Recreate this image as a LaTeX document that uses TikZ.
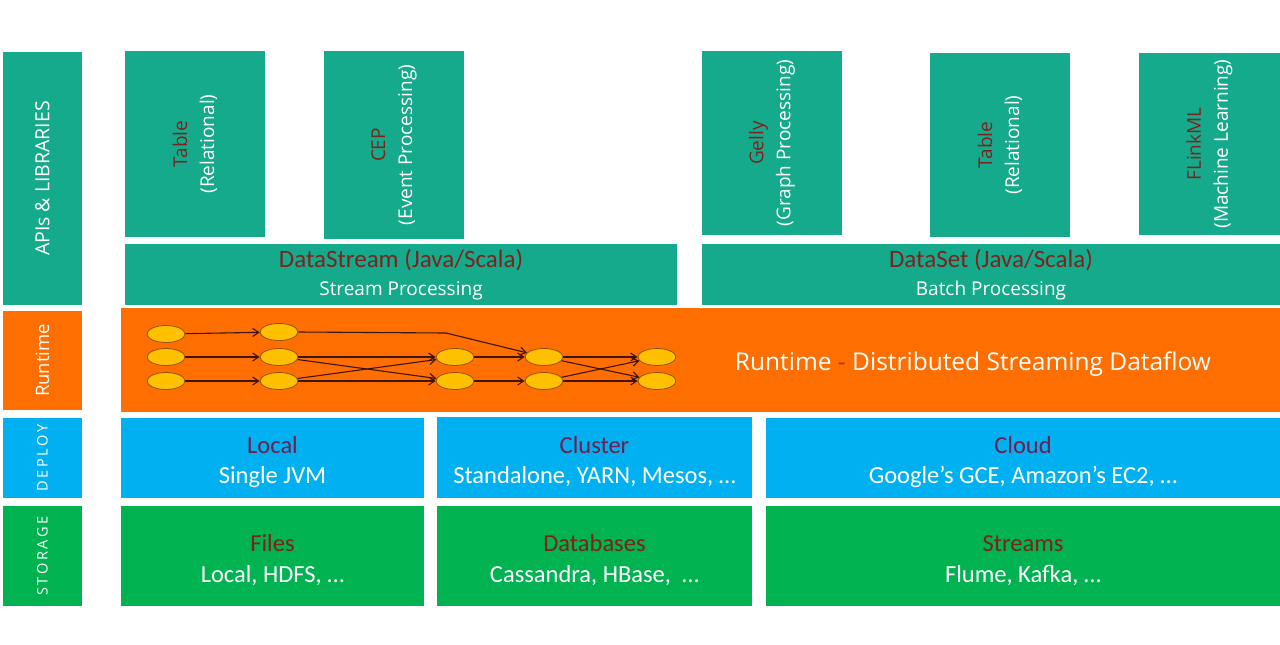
\documentclass[tikz,border=0pt]{standalone}
\usepackage{fontspec}
\setmainfont{Open Sans}
\newfontfamily\calfont{Carlito}
\newfontfamily\spacedfont[LetterSpace=18]{Open Sans}
\usetikzlibrary{shapes.geometric,arrows.meta}
\definecolor{tealc}{RGB}{22,170,140}
\definecolor{orangec}{RGB}{255,110,0}
\definecolor{bluec}{RGB}{0,176,240}
\definecolor{greenc}{RGB}{0,178,80}
\definecolor{dred}{RGB}{125,35,30}
\definecolor{dpurp}{RGB}{110,30,80}
\definecolor{dbrown}{RGB}{125,35,20}
\definecolor{ellfill}{RGB}{255,192,0}
\definecolor{elldraw}{RGB}{150,80,10}
\definecolor{arrc}{RGB}{60,20,10}
\definecolor{dashred}{RGB}{220,30,30}
\newcommand{\downstrut}{\rule{0pt}{26pt}}
\begin{document}
\begin{tikzpicture}[x=1pt,y=-1pt,
  box/.style={rectangle, inner sep=0pt, outer sep=0pt, draw=none, text=white, align=center},
  vbox/.style={box, rotate=90, fill=tealc, font=\fontsize{19}{27}\selectfont},
  sidelab/.style={box, rotate=90, font=\fontsize{18.5}{20}\selectfont},
  wide/.style={box, fill=tealc, font=\fontsize{19}{28}\selectfont},
  dep/.style={box, fill=bluec, font=\calfont\fontsize{24.5}{30}\selectfont},
  stor/.style={box, fill=greenc, font=\calfont\fontsize{24.5}{31}\selectfont},
  op/.style={ellipse, draw=elldraw, fill=ellfill, line width=0.8pt, minimum width=38pt, minimum height=17pt, inner sep=0pt},
  flow/.style={draw=arrc, line width=1.1pt, -{Straight Barb[length=6pt,width=8pt]}}
]
\useasboundingbox (0,0) rectangle (1280,645);
\fill[white] (0,0) rectangle (1280,645);

% left labels
\node[sidelab, fill=tealc, minimum width=253pt, minimum height=79pt, font=\fontsize{19.5}{20}\selectfont] (apis) at (42.5,178.5) {APIs \& LIBRARIES};
\node[sidelab, fill=orangec, minimum width=99pt, minimum height=79pt] (rtlab) at (42.5,360.5) {Runtime};
\node[sidelab, fill=bluec, minimum width=80pt, minimum height=79pt, font=\spacedfont\fontsize{14.5}{18}\selectfont] (deplab) at (42.5,458) {DEPLOY};
\node[sidelab, fill=greenc, minimum width=100pt, minimum height=79pt, font=\spacedfont\fontsize{14.5}{18}\selectfont] (storlab) at (42.5,556) {STORAGE};

% library boxes
\node[vbox, minimum width=186pt, minimum height=140pt] (table1) at (195,144) {{\color{dred}Table}\\(Relational)};
\node[vbox, minimum width=188pt, minimum height=140pt] (cep) at (394,145) {{\color{dred}CEP}\\(Event Processing)};
\node[vbox, minimum width=184pt, minimum height=140pt] (gelly) at (772,143) {{\color{dred}Gelly}\\(Graph Processing)};
\node[vbox, minimum width=184pt, minimum height=140pt] (table2) at (1000,145) {{\color{dred}Table}\\(Relational)};
\node[vbox, minimum width=182pt, minimum height=141pt] (flinkml) at (1209.5,144) {{\color{dred}FLinkML}\\(Machine Learning)};

\node[wide, minimum width=552pt, minimum height=61pt] (dstream) at (401,274.5) {{\calfont\fontsize{25}{28}\selectfont\color{dred}DataStream (Java/Scala)}\\Stream Processing};
\node[wide, minimum width=578pt, minimum height=61pt] (dset) at (991,274.5) {{\calfont\fontsize{25}{28}\selectfont\color{dred}DataSet (Java/Scala)}\\Batch Processing};

% runtime
\node[box, fill=orangec, minimum width=1159pt, minimum height=104pt] (runtime) at (700.5,360) {};
\node[box, font=\fontsize{24.5}{28}\selectfont] (rttext) at (973,364) {Runtime {\color{dashred}-} Distributed Streaming Dataflow};

% dataflow
\node[op] (a1) at (166,334) {};
\node[op] (a2) at (166,357) {};
\node[op] (a3) at (166,381) {};
\node[op] (b1) at (279,332) {};
\node[op] (b2) at (279,357) {};
\node[op] (b3) at (279,381) {};
\node[op] (c2) at (455,357) {};
\node[op] (c3) at (455,381) {};
\node[op] (d2) at (544,357) {};
\node[op] (d3) at (544,381) {};
\node[op] (e2) at (657,357) {};
\node[op] (e3) at (657,381) {};
\coordinate (k1) at (446,333);

\draw[flow] (a1) -- (b1);
\draw[flow] (a2) -- (b2);
\draw[flow] (a3) -- (b3);
\draw[flow] (b1.east) -- (k1) -- (d2);
\draw[flow] (b2) -- (c2);
\draw[flow] (b2) -- (c3);
\draw[flow] (b3) -- (c2);
\draw[flow] (b3) -- (c3);
\draw[flow] (c2) -- (d2);
\draw[flow] (c3) -- (d3);
\draw[flow] (d2) -- (e2);
\draw[flow] (d2) -- (e3);
\draw[flow] (d3) -- (e2);
\draw[flow] (d3) -- (e3);

% deploy
\node[dep, minimum width=303pt, minimum height=80pt] (local) at (272.5,458) {\downstrut{\color{dpurp}Local}\\Single JVM};
\node[dep, minimum width=315pt, minimum height=81pt] (cluster) at (594.5,457.5) {\downstrut{\color{dpurp}Cluster}\\Standalone, YARN, Mesos, \dots};
\node[dep, minimum width=514pt, minimum height=80pt] (cloud) at (1023,458) {\downstrut{\color{dpurp}Cloud}\\Google’s GCE, Amazon’s EC2, \dots};

% storage
\node[stor, minimum width=303pt, minimum height=100pt] (files) at (272.5,556) {\downstrut{\color{dbrown}Files}\\Local, HDFS, \dots};
\node[stor, minimum width=315pt, minimum height=100pt] (dbs) at (594.5,556) {\downstrut{\color{dbrown}Databases}\\Cassandra, HBase, \ \dots};
\node[stor, minimum width=514pt, minimum height=100pt] (streams) at (1023,556) {\downstrut{\color{dbrown}Streams}\\Flume, Kafka, \dots};
\end{tikzpicture}
\end{document}
